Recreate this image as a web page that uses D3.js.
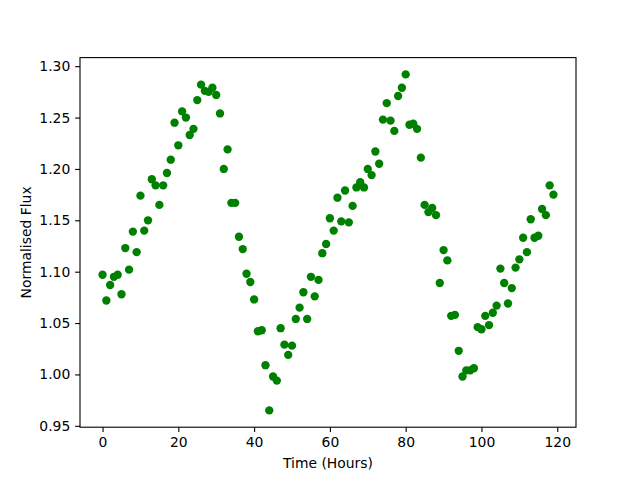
<!DOCTYPE html>
<html><head><meta charset="utf-8">
<script src="https://cdn.jsdelivr.net/npm/d3@7"></script>
<style>body{margin:0;background:#fff}svg{display:block}text{font-family:"DejaVu Sans",sans-serif}</style>
</head><body>
<script>
const hours = d3.range(0, 120);
const flux = [
1.097,1.072,1.087,1.095,1.097,1.078,1.123,1.102,1.139,1.119,
1.174,1.140,1.150,1.190,1.184,1.165,1.184,1.196,1.209,1.245,
1.223,1.256,1.250,1.233,1.239,1.267,1.282,1.276,1.275,1.279,
1.272,1.254,1.200,1.219,1.167,1.167,1.134,1.122,1.098,1.090,
1.073,1.042,1.043,1.009,0.965,0.998,0.994,1.045,1.029,1.019,
1.028,1.054,1.065,1.080,1.054,1.095,1.076,1.092,1.118,1.127,
1.152,1.140,1.172,1.149,1.179,1.148,1.164,1.182,1.187,1.182,
1.200,1.194,1.217,1.205,1.248,1.264,1.247,1.237,1.271,1.279,
1.292,1.243,1.244,1.239,1.211,1.165,1.158,1.162,1.155,1.089,
1.121,1.111,1.057,1.058,1.023,0.998,1.004,1.004,1.006,1.046,
1.044,1.057,1.048,1.060,1.067,1.103,1.089,1.069,1.084,1.104,
1.112,1.133,1.119,1.151,1.133,1.135,1.161,1.155,1.184,1.175];
const xTicks = [0,20,40,60,80,100,120];
const yTicks = [0.95,1.00,1.05,1.10,1.15,1.20,1.25,1.30];
const xLabel = "Time (Hours)", yLabel = "Normalised Flux";

const W=640,H=480, L=80,R=576,T=57.6,B=427.2;
const svg=d3.select("body").append("svg").attr("width",W).attr("height",H);
const xmin=d3.min(hours),xmax=d3.max(hours),xp=(xmax-xmin)*0.05;
const ymin=d3.min(flux),ymax=d3.max(flux),yp=(ymax-ymin)*0.05;
const x=d3.scaleLinear().domain([xmin-xp,xmax+xp]).range([L,R]);
const y=d3.scaleLinear().domain([ymin-yp,ymax+yp]).range([B,T]);

svg.append("g").selectAll("circle").data(hours).join("circle")
  .attr("cx",(d)=>x(d)).attr("cy",(d,i)=>y(flux[i])).attr("r",4.17).attr("fill","#008000");

const xa=svg.append("g").attr("transform",`translate(0,${B})`)
  .call(d3.axisBottom(x).tickValues(xTicks).tickSize(4.86).tickSizeOuter(0).tickPadding(4.9).tickFormat(d3.format("d")));
const ya=svg.append("g").attr("transform",`translate(${L},0)`)
  .call(d3.axisLeft(y).tickValues(yTicks).tickSize(4.86).tickSizeOuter(0).tickPadding(4.9).tickFormat(d3.format(".2f")));
[xa,ya].forEach(a=>{a.select(".domain").remove();a.selectAll("line").attr("stroke","#000").attr("stroke-width",1.1);
  a.selectAll("text").attr("font-size",13.9).attr("fill","#000").attr("font-family","DejaVu Sans");});
svg.append("rect").attr("x",L).attr("y",T).attr("width",R-L).attr("height",B-T)
  .attr("fill","none").attr("stroke","#000").attr("stroke-width",1.1);
svg.append("text").attr("x",(L+R)/2).attr("y",468).attr("text-anchor","middle").attr("font-size",13.9).text(xLabel);
svg.append("text").attr("transform",`translate(31,${(T+B)/2}) rotate(-90)`).attr("text-anchor","middle").attr("font-size",13.9).text(yLabel);
</script>
</body></html>
